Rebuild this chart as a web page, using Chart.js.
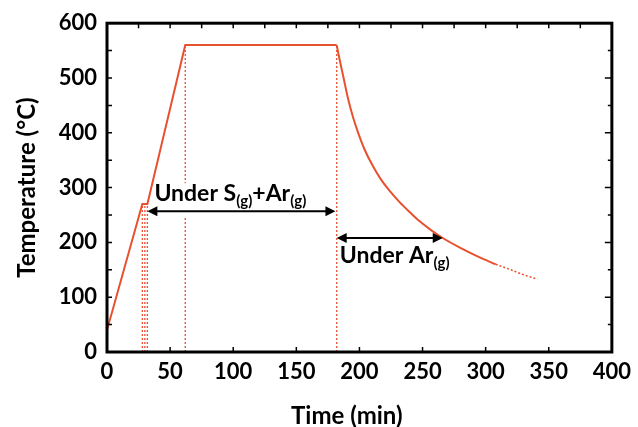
<!DOCTYPE html>
<html>
<head>
<meta charset="utf-8">
<script src="https://cdn.jsdelivr.net/npm/chart.js@4.4.1/dist/chart.umd.min.js"></script>
<style>
  html, body { margin: 0; padding: 0; background: #fff; }
  #wrap { width: 638px; height: 427px; }
</style>
</head>
<body>
<div id="wrap"><canvas id="tempChart" width="638" height="427"></canvas></div>
<script>
// furnace program: ramp, short hold, ramp, long hold (min, degC)
var heatTime = [0, 28, 32, 62, 182];
var heatTemp = [40, 270, 270, 560, 560];

// natural cooling after the hold
var coolTime = [182, 184, 187, 191, 195, 199, 204, 210, 217, 224, 232, 240, 248, 257, 266, 280, 294, 308];
var coolTemp = [560, 537, 505, 462, 428, 400, 370, 342, 315, 294, 273, 255, 238, 222, 208, 190, 174, 160];

// extrapolated end of the cooling curve
var tailTime = [308, 320, 330, 341];
var tailTemp = [160, 150, 141, 133];

// dotted drop lines
var markTime = [28, 30, 32, 62, 182];
var markTop = [270, 270, 270, 560, 560];

// arrows: start, end, temperature
var sulfurSpan = [32, 181, 257];
var argonSpan = [182, 266, 208];

var xTicks = [0, 50, 100, 150, 200, 250, 300, 350, 400];
var yTicks = [0, 100, 200, 300, 400, 500, 600];

var red = '#e8512f';
var fontFam = 'Lato, "Open Sans", sans-serif';

function pts(xs, ys) {
    return xs.map(function (x, i) { return { x: x, y: ys[i] }; });
}

var datasets = [
    { data: pts(heatTime, heatTemp), borderColor: red, borderWidth: 2, pointRadius: 0, tension: 0 },
    { data: pts(coolTime, coolTemp), borderColor: red, borderWidth: 2, pointRadius: 0, cubicInterpolationMode: 'monotone' },
    { data: pts(tailTime, tailTemp), borderColor: red, borderWidth: 1.5, borderDash: [2, 2], pointRadius: 0, cubicInterpolationMode: 'monotone' }
];
markTime.forEach(function (t, i) {
    datasets.push({
        data: [{ x: t, y: 0 }, { x: t, y: markTop[i] }],
        borderColor: red, borderWidth: 1.3, borderDash: [2, 2], pointRadius: 0
    });
});

function arrowHead(ctx, x, y, dir) {
    ctx.beginPath();
    ctx.moveTo(x, y);
    ctx.lineTo(x - dir * 10, y - 5);
    ctx.lineTo(x - dir * 10, y + 5);
    ctx.closePath();
    ctx.fill();
}

function drawArrow(ctx, x1, x2, y) {
    ctx.save();
    ctx.strokeStyle = '#000';
    ctx.fillStyle = '#000';
    ctx.lineWidth = 2;
    ctx.beginPath();
    ctx.moveTo(x1 + 6, y);
    ctx.lineTo(x2 - 6, y);
    ctx.stroke();
    arrowHead(ctx, x1, y, -1);
    arrowHead(ctx, x2, y, 1);
    ctx.restore();
}

// text with (g) subscripts; parts alternate normal / subscript
function gasLabel(ctx, parts, x, y, measureOnly) {
    var cx = x;
    parts.forEach(function (p, i) {
        var sub = i % 2 === 1;
        ctx.font = 'bold ' + (sub ? 15 : 23) + 'px ' + fontFam;
        if (!measureOnly) ctx.fillText(p, cx, sub ? y + 5 : y);
        cx += ctx.measureText(p).width;
    });
    return cx - x;
}

var annotations = {
    id: 'annotations',
    afterDatasetsDraw: function (chart) {
        var ctx = chart.ctx, xs = chart.scales.x, ys = chart.scales.y;
        var a = chart.chartArea;
        ctx.save();
        ctx.fillStyle = '#000';
        ctx.textBaseline = 'alphabetic';

        // S + Ar label sits on a white box over the drop line
        var ax1 = xs.getPixelForValue(sulfurSpan[0]);
        var ax2 = xs.getPixelForValue(sulfurSpan[1]);
        var ay = ys.getPixelForValue(sulfurSpan[2]);
        var parts1 = ['Under S', '(g)', '+Ar', '(g)'];
        var w1 = gasLabel(ctx, parts1, 0, 0, true);
        ctx.fillStyle = '#fff';
        ctx.fillRect(ax1 + 9, ay - 28, w1, 34);
        ctx.fillStyle = '#000';
        gasLabel(ctx, parts1, ax1 + 7, ay - 10);
        drawArrow(ctx, ax1, ax2, ay);

        // Ar label
        var bx1 = xs.getPixelForValue(argonSpan[0]);
        var bx2 = xs.getPixelForValue(argonSpan[1]);
        var by = ys.getPixelForValue(argonSpan[2]);
        drawArrow(ctx, bx1, bx2, by);
        gasLabel(ctx, ['Under Ar', '(g)'], bx1 + 3, by + 25);

        // x axis title
        ctx.font = 'bold 24px ' + fontFam;
        ctx.textAlign = 'center';
        ctx.fillText('Time (min)', xs.getPixelForValue(190), 424);

        // frame with inward ticks
        ctx.strokeStyle = '#000';
        ctx.lineWidth = 3;
        ctx.strokeRect(a.left, a.top, a.right - a.left, a.bottom - a.top);
        ctx.lineWidth = 1.5;
        ctx.beginPath();
        for (var t = 25; t < 400; t += 25) {
            var px = xs.getPixelForValue(t);
            ctx.moveTo(px, a.top);
            ctx.lineTo(px, a.top + 5);
            if (t % 50 === 0) {
                ctx.moveTo(px, a.bottom);
                ctx.lineTo(px, a.bottom - 5);
            }
        }
        for (var v = 50; v < 600; v += 50) {
            var py = ys.getPixelForValue(v);
            var len = v % 100 === 0 ? 7 : 4;
            ctx.moveTo(a.left, py);
            ctx.lineTo(a.left + 5, py);
            ctx.moveTo(a.right, py);
            ctx.lineTo(a.right - len, py);
        }
        ctx.stroke();
        ctx.restore();
    }
};

var tickFont = { family: fontFam, size: 22, weight: 'bold' };

new Chart(document.getElementById('tempChart').getContext('2d'), {
    type: 'line',
    data: { datasets: datasets },
    plugins: [annotations],
    options: {
        responsive: false,
        animation: false,
        layout: { padding: { top: 20, right: 21, left: 0, bottom: 0 } },
        plugins: { legend: { display: false }, tooltip: { enabled: false } },
        scales: {
            x: {
                type: 'linear', min: 0, max: 400,
                afterBuildTicks: function (s) { s.ticks = xTicks.map(function (v) { return { value: v }; }); },
                afterFit: function (s) { s.height = 75; },
                grid: { display: false, drawTicks: false },
                border: { display: false },
                ticks: { color: '#000', font: tickFont, padding: 7, maxRotation: 0 }
            },
            y: {
                min: 0, max: 600,
                afterBuildTicks: function (s) { s.ticks = yTicks.map(function (v) { return { value: v }; }); },
                afterFit: function (s) { s.width = 107; },
                grid: { display: false, drawTicks: false },
                border: { display: false },
                ticks: { color: '#000', font: tickFont, padding: 10 },
                title: { display: true, text: 'Temperature (\u00B0C)', color: '#000', font: { family: fontFam, size: 24, weight: 'bold' }, padding: { top: 13, bottom: 0 } }
            }
        }
    }
});
</script>
</body>
</html>
